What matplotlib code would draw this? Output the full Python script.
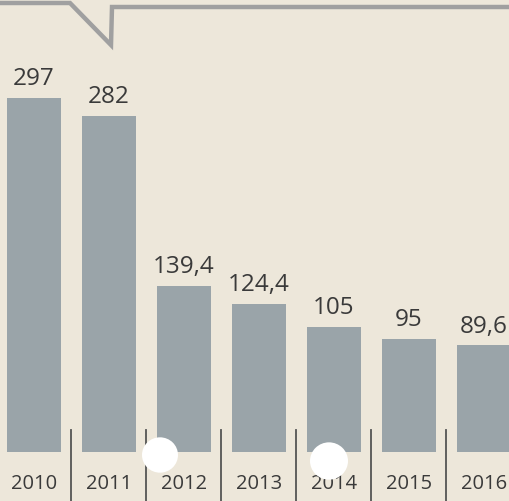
import matplotlib
matplotlib.use("Agg")
import matplotlib.pyplot as plt
from matplotlib import font_manager
from matplotlib.patches import Circle
from matplotlib.lines import Line2D

years = ["2010", "2011", "2012", "2013", "2014", "2015", "2016"]
values = [297, 282, 139.4, 124.4, 105, 95, 89.6]
value_labels = ["297", "282", "139,4", "124,4", "105", "95", "89,6"]

names = {f.name for f in font_manager.fontManager.ttflist}
year_font = "Liberation Sans Narrow" if "Liberation Sans Narrow" in names else "Open Sans"
year_size = 19 if year_font == "Liberation Sans Narrow" else 14.5

bg = "#ede7da"
bar_color = "#9aa4a9"
text_color = "#3a3a3a"

fig = plt.figure(figsize=(5.10, 5.01), dpi=100, facecolor=bg)
ax = fig.add_axes([0, 0, 1, 1])
ax.set_facecolor(bg)

x = list(range(len(years)))
ax.bar(x, values, width=0.73, color=bar_color, zorder=2)

ax.set_xlim(-0.453, 6.347)
ax.set_ylim(-41.1, 379.2)
ax.axis("off")

for xi, v, lab in zip(x, values, value_labels):
    ax.annotate(lab, (xi, v), xytext=(0, 9), textcoords="offset points",
                ha="center", va="baseline", fontsize=17.5, family="Open Sans",
                color=text_color)

for xi, y in zip(x, years):
    ax.text(xi, -26.5, y, ha="center", va="center", fontsize=year_size,
            family=year_font, color=text_color)

for i in range(len(years) - 1):
    ax.plot([i + 0.5, i + 0.5], [18.5, -41.1], color="#555555", lw=1.3, zorder=3)

# top decorative frame line (figure pixel coords)
W, H = 510, 501
px = [0, 70, 111, 112, 510]
py = [3, 3, 45, 7, 7]
fig.add_artist(Line2D([p / W for p in px], [1 - q / H for q in py],
                      transform=fig.transFigure, color="#a0a0a0", lw=3.2,
                      solid_joinstyle="miter"))

# white spots from the scan
for cx, cy, r in [(160, 455, 18), (329, 461, 19)]:
    fig.add_artist(Circle((cx / W, 1 - cy / H), r / W, transform=fig.transFigure,
                          facecolor="white", edgecolor="none", zorder=10))

fig.savefig("out.png", dpi=100, facecolor=bg)
